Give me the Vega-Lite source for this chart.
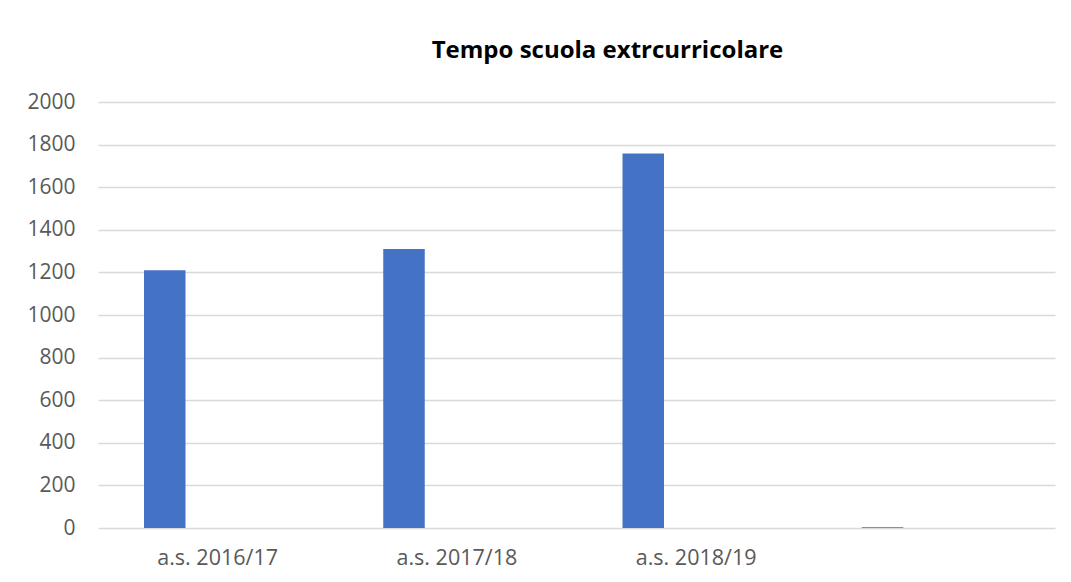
{
  "$schema": "https://vega.github.io/schema/vega-lite/v6.json",
  "width": 957,
  "height": 426,
  "autosize": {"type": "none"},
  "padding": {"left": 98, "top": 102, "right": 16, "bottom": 54},
  "background": "#ffffff",
  "title": {
    "text": "Tempo scuola extrcurricolare",
    "font": "Open Sans",
    "fontSize": 24,
    "fontWeight": "bold",
    "color": "#000000",
    "anchor": "middle",
    "dx": 31,
    "offset": 28
  },
  "data": {
    "values": [
      {"anno": "a.s. 2016/17", "serie": "Serie 1", "valore": 1210},
      {"anno": "a.s. 2017/18", "serie": "Serie 1", "valore": 1310},
      {"anno": "a.s. 2018/19", "serie": "Serie 1", "valore": 1758},
      {"anno": " ", "serie": "Serie 1", "valore": 3}
    ]
  },
  "mark": {"type": "bar", "color": "#4472C4"},
  "encoding": {
    "x": {
      "field": "anno",
      "type": "nominal",
      "sort": null,
      "scale": {"paddingInner": 0, "paddingOuter": 0},
      "axis": {
        "title": null,
        "domain": false,
        "ticks": false,
        "labelAngle": 0,
        "labelFont": "Open Sans",
        "labelFontSize": 21.5,
        "labelColor": "#595959",
        "labelPadding": 19
      }
    },
    "xOffset": {
      "field": "serie",
      "type": "nominal",
      "scale": {
        "domain": ["Serie 1", "Serie 2", "Serie 3", "Serie 4"],
        "paddingInner": 0,
        "paddingOuter": 0.8825,
        "align": 0.628
      }
    },
    "y": {
      "field": "valore",
      "type": "quantitative",
      "scale": {"domain": [0, 2000], "nice": false},
      "axis": {
        "title": null,
        "values": [0, 200, 400, 600, 800, 1000, 1200, 1400, 1600, 1800, 2000],
        "format": "d",
        "domain": false,
        "ticks": false,
        "grid": true,
        "gridColor": "#d9d9d9",
        "gridWidth": 1.5,
        "labelFont": "Open Sans",
        "labelFontSize": 21,
        "labelColor": "#595959",
        "labelPadding": 23
      }
    }
  },
  "config": {"view": {"stroke": null}}
}
